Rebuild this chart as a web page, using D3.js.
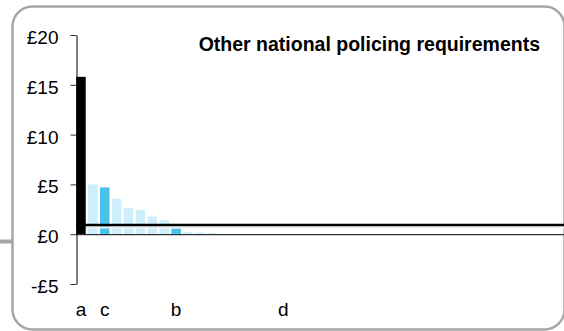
<!DOCTYPE html>
<html lang="en">
<head>
<meta charset="UTF-8"/>
<title>Other national policing requirements</title>
<script src="https://d3js.org/d3.v7.min.js"></script>
<style>
  body { margin: 0; background: #fff; }
  text { font-family: "Liberation Sans", Arial, sans-serif; }
</style>
</head>
<body>
<script>
    var w = 564;
    var h = 331;

    // one entry per force, in the order shown
    var labels = ["a", "", "c", "", "", "", "", "", "b", "", "", "", "", "", "", "", "", "d",
                  "", "", "", "", "", "", "", "", "", "", "", "", "", "", "", "", "", "", "", "", "", "", ""];
    var values = [15.8, 5.0, 4.7, 3.55, 2.64, 2.44, 1.77, 1.43, 0.6, 0.22, 0.18, 0.12, 0, 0, 0, 0, 0, 0,
                  0, 0, 0, 0, 0, 0, 0, 0, 0, 0, 0, 0, 0, 0, 0, 0, 0, 0, 0, 0, 0, 0, 0];
    var kinds  = ["black", "light", "dark", "light", "light", "light", "light", "light", "dark", "light", "light", "light", "light", "light", "light", "light", "light", "light",
                  "light", "light", "light", "light", "light", "light", "light", "light", "light", "light", "light", "light", "light", "light", "light", "light", "light", "light", "light", "light", "light", "light", "light"];
    var average = 0.93;
    var yTicks = [-5, 0, 5, 10, 15, 20];

    var colours = { black: "#000000", light: "#cdeefa", dark: "#4ac2ec" };

    var svg = d3.select("body")
                .append("svg")
                .attr("width", w)
                .attr("height", h);

    // frame
    svg.append("rect")
        .attr("x", 12.5)
        .attr("y", 6.5)
        .attr("width", 552)
        .attr("height", 323)
        .attr("rx", 20)
        .attr("fill", "none")
        .attr("stroke", "#a6a6a6")
        .attr("stroke-width", 2.5);

    svg.append("rect")
        .attr("x", 0)
        .attr("y", 239.5)
        .attr("width", 12)
        .attr("height", 4)
        .attr("fill", "#a6a6a6");

    var xScale = d3.scaleBand()
        .domain(d3.range(values.length))
        .range([75, 75 + values.length * 11.9])
        .paddingInner(0.2)
        .paddingOuter(0.1);

    var yScale = d3.scaleLinear()
        .domain([-5, 20])
        .range([284, 35]);

    // bars
    svg.selectAll("rect.bar")
        .data(values)
        .enter()
        .append("rect")
        .attr("class", "bar")
        .attr("x", function(d, i) { return xScale(i); })
        .attr("y", function(d) { return yScale(Math.max(d, 0)); })
        .attr("width", xScale.bandwidth())
        .attr("height", function(d) { return Math.abs(yScale(d) - yScale(0)); })
        .attr("fill", function(d, i) { return colours[kinds[i]]; });

    // zero line
    svg.append("line")
        .attr("x1", 76)
        .attr("x2", w)
        .attr("y1", yScale(0) + 0.5)
        .attr("y2", yScale(0) + 0.5)
        .attr("stroke", "#333")
        .attr("stroke-width", 1.2);

    // average line, with a pale band under it
    svg.append("line")
        .attr("x1", 86)
        .attr("x2", w)
        .attr("y1", yScale(average) + 2.5)
        .attr("y2", yScale(average) + 2.5)
        .attr("stroke", "#f0f0f0")
        .attr("stroke-width", 2);

    svg.append("line")
        .attr("x1", 76)
        .attr("x2", w)
        .attr("y1", yScale(average))
        .attr("y2", yScale(average))
        .attr("stroke", "#000")
        .attr("stroke-width", 2.6);

    // y axis
    var yAxis = d3.axisLeft(yScale)
        .tickValues(yTicks)
        .tickSize(6)
        .tickSizeOuter(0)
        .tickPadding(12)
        .tickFormat(function(d) { return d < 0 ? "-£" + (-d) : "£" + d; });

    var gy = svg.append("g")
        .attr("transform", "translate(76.5,0)")
        .call(yAxis);
    gy.select(".domain").attr("stroke", "#000");
    gy.selectAll(".tick line").attr("stroke", "#333");
    gy.selectAll("text")
        .attr("font-size", "19px")
        .attr("fill", "#000")
        .attr("dy", "0.45em");

    // category labels
    svg.selectAll("text.cat")
        .data(labels)
        .enter()
        .append("text")
        .attr("class", "cat")
        .attr("x", function(d, i) { return xScale(i) + xScale.bandwidth() / 2; })
        .attr("y", 316)
        .attr("text-anchor", "middle")
        .attr("font-size", "19px")
        .attr("fill", "#000")
        .text(function(d) { return d; });

    svg.append("text")
        .attr("x", 540)
        .attr("y", 51)
        .attr("text-anchor", "end")
        .attr("font-size", "19.5px")
        .attr("font-weight", "bold")
        .attr("fill", "#000")
        .text("Other national policing requirements");
</script>
</body>
</html>
